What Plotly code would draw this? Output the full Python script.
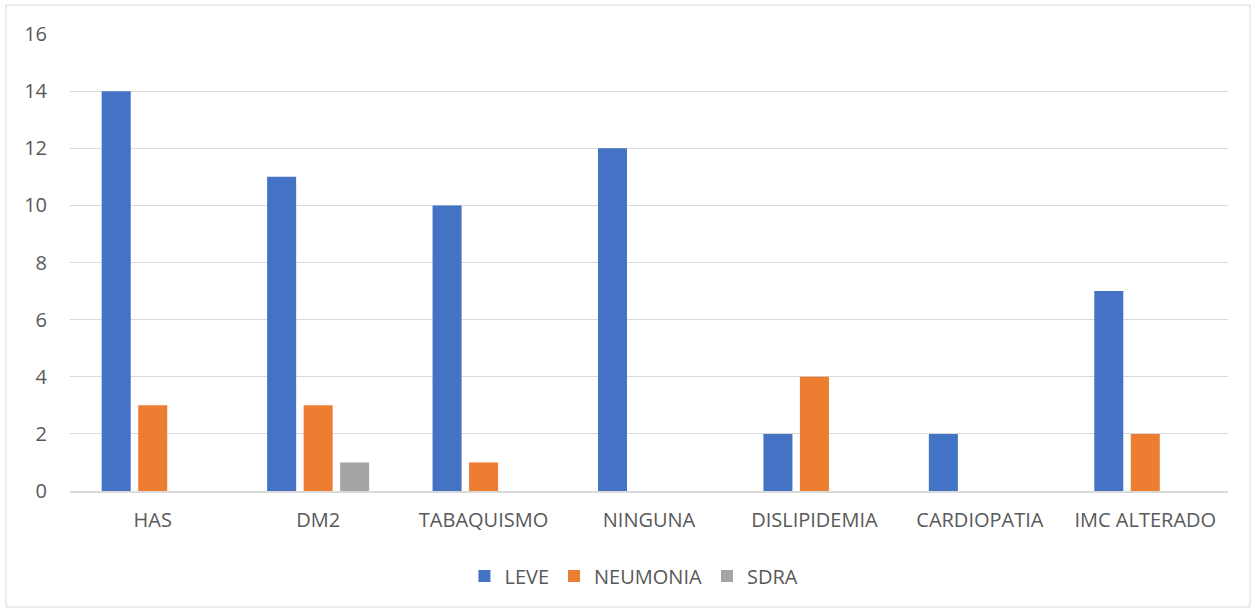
import plotly.graph_objects as go

categories = ["HAS", "DM2", "TABAQUISMO", "NINGUNA", "DISLIPIDEMIA", "CARDIOPATIA", "IMC ALTERADO"]
leve = [14, 11, 10, 12, 2, 2, 7]
neumonia = [3, 3, 1, 0, 4, 0, 2]
sdra = [0, 1, 0, 0, 0, 0, 0]
y_ticks = [0, 2, 4, 6, 8, 10, 12, 14, 16]

W, H = 1255, 612
ML, MR, MT, MB = 70, 27, 34, 121
PW, PH = W - ML - MR, H - MT - MB

font_family = "Open Sans, Liberation Sans, sans-serif"
text_color = "#595959"

fig = go.Figure()
for name, vals, color in [("LEVE", leve, "#4472C4"),
                          ("NEUMONIA", neumonia, "#ED7D31"),
                          ("SDRA", sdra, "#A5A5A5")]:
    fig.add_trace(go.Bar(
        name=name, x=categories, y=vals,
        marker=dict(color=color, line=dict(width=0)),
    ))

# chart border
fig.add_shape(type="rect", xref="paper", yref="paper",
              x0=(6 - ML) / PW, x1=(1250 - ML) / PW,
              y0=(H - MB - 607) / PH, y1=(H - MB - 5) / PH,
              line=dict(color="#d9d9d9", width=1), fillcolor="rgba(0,0,0,0)", layer="below")

fig.update_layout(
    width=W, height=H,
    margin=dict(l=ML, r=MR, t=MT, b=MB),
    paper_bgcolor="white", plot_bgcolor="white",
    barmode="group", bargap=0.338, bargroupgap=0.205,
    font=dict(family=font_family, color=text_color, size=20),
    showlegend=True,
    legend=dict(orientation="h", x=0.487, xanchor="center", y=-0.186, yanchor="middle",
                font=dict(size=20, color=text_color), itemwidth=30,
                traceorder="normal"),
    xaxis=dict(showgrid=False, showline=True, linecolor="#d9d9d9", linewidth=1.5,
               ticks="", tickfont=dict(size=20, color=text_color), ticklabelstandoff=10),
    yaxis=dict(range=[0, 16], tickvals=y_ticks, showgrid=True, gridcolor="#d9d9d9",
               gridwidth=1, zeroline=False, showline=False, ticks="",
               tickfont=dict(size=20, color=text_color), ticklabelstandoff=22),
)

fig.write_html("out.html")
